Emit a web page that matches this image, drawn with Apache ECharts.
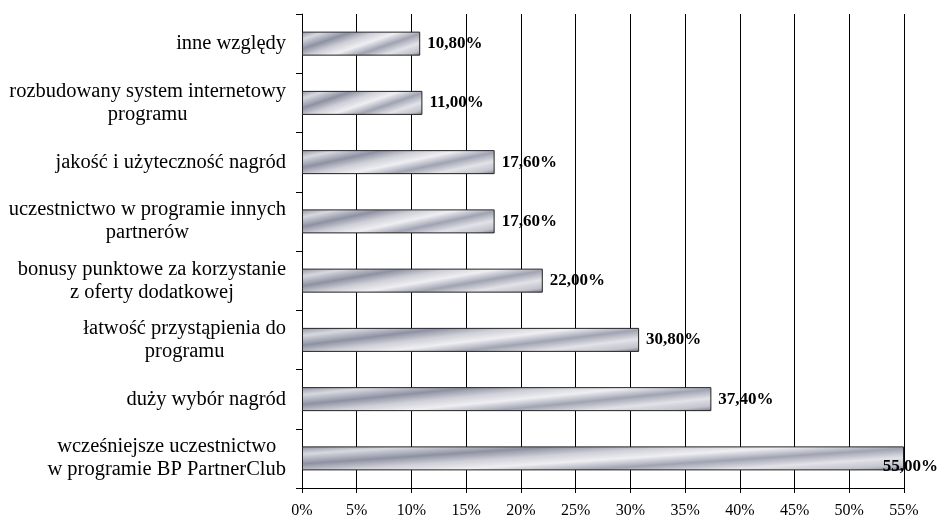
<!DOCTYPE html>
<html>
<head>
<meta charset="utf-8">
<script src="https://cdn.jsdelivr.net/npm/echarts@6/dist/echarts.min.js"></script>
<style>
  html, body { margin: 0; padding: 0; background: #fff; }
  #chart { width: 940px; height: 519px; }
</style>
</head>
<body>
<div id="chart"></div>
<script>
// Reasons for joining the programme (share of respondents, %)
const categories = [
  'inne względy',
  'rozbudowany system internetowy\nprogramu',
  'jakość i użyteczność nagród',
  'uczestnictwo w programie innych\npartnerów',
  'bonusy punktowe za korzystanie\nz oferty dodatkowej',
  'łatwość przystąpienia do\nprogramu',
  'duży wybór nagród',
  'wcześniejsze uczestnictwo\nw programie BP PartnerClub'
];
const shares = [10.8, 11.0, 17.6, 17.6, 22.0, 30.8, 37.4, 55.0];

const axisMin = 0;
const axisMax = 55;
const axisStep = 5;

const SERIF = '"Liberation Serif", "Times New Roman", serif';
const BAR_H = 24;

const chart = echarts.init(document.getElementById('chart'), null, { renderer: 'canvas' });

// Silver "chrome" fill, diagonal stripes that follow the bar's proportions
const stops = [
  { offset: 0.00, color: '#8e92a2' },
  { offset: 0.12, color: '#d8d9df' },
  { offset: 0.27, color: '#8e91a2' },
  { offset: 0.40, color: '#cfd0d8' },
  { offset: 0.52, color: '#efeff2' },
  { offset: 0.66, color: '#a0a3b2' },
  { offset: 0.80, color: '#e2e2e8' },
  { offset: 0.92, color: '#c2c3cc' },
  { offset: 1.00, color: '#74788b' }
];

function silverFill(w, h) {
  w = Math.max(w, 1);
  const s = Math.min(1.7 * h / w, 1);           // slope of stripe lines
  const k = (s * w + h) / (s * s + 1);
  return new echarts.graphic.LinearGradient(0, 0, s * k / w, k / h, stops);
}

function fmt(v) {
  return v.toFixed(2).replace('.', ',') + '%';
}

function buildData() {
  const x0 = chart.convertToPixel({ xAxisIndex: 0 }, 0) || 0;
  return shares.map(function (v) {
    const x1 = chart.convertToPixel({ xAxisIndex: 0 }, v) || 0;
    return {
      value: v,
      itemStyle: { color: silverFill(x1 - x0, BAR_H) }
    };
  });
}

const option = {
  animation: false,
  backgroundColor: '#ffffff',
  grid: { left: 302, right: 36, top: 14, bottom: 31, containLabel: false },
  xAxis: {
    type: 'value',
    min: axisMin,
    max: axisMax,
    interval: axisStep,
    axisLine: { show: true, lineStyle: { color: '#000', width: 1 } },
    axisTick: { show: true, inside: false, length: 5, lineStyle: { color: '#000' } },
    axisLabel: {
      formatter: function (v) { return v + '%'; },
      fontFamily: SERIF,
      fontSize: 16,
      color: '#000',
      margin: 15
    },
    splitLine: { show: true, lineStyle: { color: '#000', width: 1 } }
  },
  yAxis: {
    type: 'category',
    data: categories,
    inverse: true,
    axisLine: { show: true, onZero: false, lineStyle: { color: '#000', width: 1 } },
    axisTick: { show: true, inside: false, length: 6, lineStyle: { color: '#000' } },
    axisLabel: {
      margin: 16,
      color: '#000',
      fontFamily: SERIF,
      fontSize: 20.5,
      lineHeight: 23,
      formatter: function (v) {
        return v.split('\n').map(function (l) { return '{c|' + l + '}'; }).join('\n');
      },
      rich: {
        c: { align: 'center', fontFamily: SERIF, fontSize: 20.5, lineHeight: 23, color: '#000' }
      }
    },
    splitLine: { show: false }
  },
  series: [{
    type: 'bar',
    data: shares,
    barWidth: BAR_H,
    itemStyle: { color: '#b0b3c0', borderColor: '#222', borderWidth: 1 },
    label: {
      show: true,
      position: 'right',
      distance: 7,
      formatter: function (p) { return fmt(p.value); },
      fontFamily: SERIF,
      fontSize: 17,
      fontWeight: 'bold',
      color: '#000'
    },
    labelLayout: function (params) {
      const r = params.labelRect;
      const limit = 938;
      if (r.x + r.width > limit) {
        return { x: limit - r.width };
      }
      return {};
    }
  }]
};

chart.setOption(option);
chart.setOption({ series: [{ data: buildData() }] });
</script>
</body>
</html>
